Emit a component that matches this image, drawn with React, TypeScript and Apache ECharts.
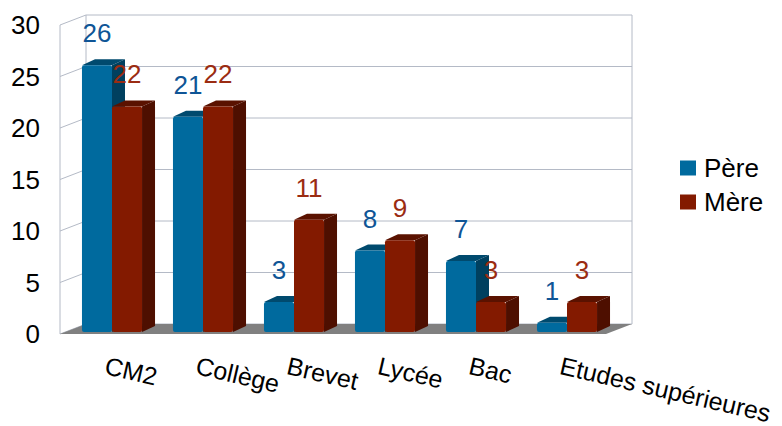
import React, { useEffect, useRef } from "react";
import * as echarts from "echarts";

const categories = ["CM2", "Collège", "Brevet", "Lycée", "Bac", "Etudes supérieures"];
const pereValues = [26, 21, 3, 8, 7, 1];
const mereValues = [22, 22, 11, 9, 3, 3];
const wallTicks = [0, 5, 10, 15, 20, 25, 30];

const FONT = '"Liberation Sans", Arial, sans-serif';
const WALL_DX = 26;
const WALL_DY = -10;
const BAR_DX = 13;
const BAR_DY = -6;
const WALL_COLOR = "#b4bac6";

function barSeries(name: string, values: number[], front: string, top: string, side: string, labelColor: string, slot: number) {
  return {
    type: "custom",
    name,
    clip: false,
    z: 3 + slot,
    itemStyle: { color: front },
    encode: { x: 0, y: 1 },
    data: values.map((v, i) => [i, v]),
    renderItem: (_params: any, api: any) => {
      const cat = api.value(0);
      const val = api.value(1);
      const base = api.coord([cat, 0]);
      const head = api.coord([cat, val]);
      const band = api.size([1, 0])[0];
      const w = band * 0.33;
      const x0 = base[0] + 6.5 - w + slot * w;
      const x1 = x0 + w;
      const yb = base[1] - 2;
      const yt = head[1] - 1;
      return {
        type: "group",
        children: [
          {
            type: "polygon",
            shape: { points: [[x0, yt], [x0 + BAR_DX, yt + BAR_DY], [x1 + BAR_DX, yt + BAR_DY], [x1, yt]] },
            style: { fill: top },
          },
          {
            type: "polygon",
            shape: { points: [[x1, yt], [x1 + BAR_DX, yt + BAR_DY], [x1 + BAR_DX, yb + BAR_DY], [x1, yb]] },
            style: { fill: side },
          },
          {
            type: "rect",
            shape: { x: x0, y: yt, width: w, height: yb - yt, r: 2 },
            style: { fill: front },
          },
          {
            type: "text",
            x: (x0 + x1) / 2,
            y: yt - 32,
            z2: 50,
            style: { text: String(val), fill: labelColor, font: `26px ${FONT}`, align: "center", verticalAlign: "middle" },
          },
        ],
      };
    },
  };
}

const wallSeries = {
  type: "custom",
  silent: true,
  clip: false,
  z: 1,
  data: wallTicks.map((t) => [0, t]),
  encode: { x: 0, y: 1 },
  renderItem: (params: any, api: any) => {
    const cs = params.coordSys;
    const left = cs.x;
    const right = cs.x + cs.width;
    const y = api.coord([0, api.value(1)])[1];
    const line = { stroke: WALL_COLOR, lineWidth: 1, fill: "none" };
    const children: any[] = [
      {
        type: "polyline",
        shape: { points: [[left, y], [left + WALL_DX, y + WALL_DY], [right + WALL_DX, y + WALL_DY]] },
        style: line,
      },
    ];
    if (params.dataIndex === 0) {
      const top = cs.y;
      const bottom = cs.y + cs.height;
      children.push(
        { type: "line", shape: { x1: left, y1: top, x2: left, y2: bottom }, style: line },
        { type: "line", shape: { x1: left + WALL_DX, y1: top + WALL_DY, x2: left + WALL_DX, y2: bottom + WALL_DY }, style: line },
        { type: "line", shape: { x1: right + WALL_DX, y1: top + WALL_DY, x2: right + WALL_DX, y2: bottom + WALL_DY }, style: line },
        {
          type: "polygon",
          z2: 5,
          shape: { points: [[left, bottom], [right, bottom], [right + WALL_DX, bottom + WALL_DY], [left + WALL_DX, bottom + WALL_DY]] },
          style: { fill: "#808080" },
        }
      );
    }
    return { type: "group", children };
  },
};

export default function App() {
  const ref = useRef<HTMLDivElement>(null);
  useEffect(() => {
    document.body.style.margin = "0";
    const chart = echarts.init(ref.current!, undefined, { renderer: "svg" });
    chart.setOption({
      animation: false,
      backgroundColor: "#ffffff",
      textStyle: { fontFamily: FONT },
      grid: { left: 60, top: 25, width: 546, height: 309, containLabel: false, outerBoundsMode: "none" },
      legend: {
        orient: "vertical",
        left: 675,
        top: 150,
        data: ["Père", "Mère"],
        icon: "rect",
        itemWidth: 16,
        itemHeight: 15,
        itemGap: 8,
        selectedMode: false,
        textStyle: { fontSize: 26, color: "#000000", fontFamily: FONT, padding: [0, 0, 0, 3] },
      },
      xAxis: {
        type: "category",
        data: categories,
        axisLine: { show: false },
        axisTick: { show: false },
        splitLine: { show: false },
        axisLabel: { rotate: -13, margin: 31, fontSize: 25, color: "#000000", fontFamily: FONT, interval: 0, hideOverlap: false },
      },
      yAxis: {
        type: "value",
        min: 0,
        max: 30,
        interval: 5,
        axisLine: { show: false },
        axisTick: { show: false },
        splitLine: { show: false },
        axisLabel: { margin: 20, fontSize: 26, color: "#000000", fontFamily: FONT },
      },
      series: [
        wallSeries,
        barSeries("Père", pereValues, "#006a9e", "#004a6e", "#00405f", "#0f5596", 0),
        barSeries("Mère", mereValues, "#831a00", "#5a1200", "#4e0f00", "#9b2c12", 1),
      ],
    });
    return () => chart.dispose();
  }, []);
  return <div ref={ref} style={{ position: "fixed", left: 0, top: 0, width: 782, height: 426 }} />;
}
